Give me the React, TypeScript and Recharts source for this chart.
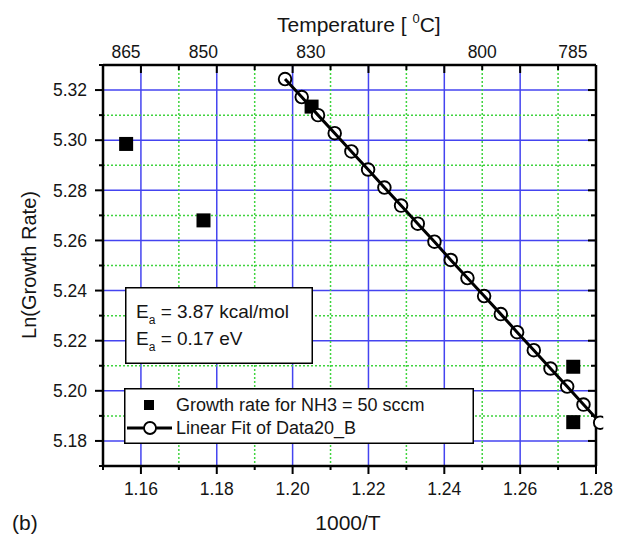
import React from 'react';
import { ComposedChart, XAxis, YAxis, CartesianGrid, Line, Scatter, Legend } from 'recharts';

const FONT = '"Liberation Sans", Arial, Helvetica, sans-serif';
const INK = '#151515';

// ---- bottom axis: 1000/T ----
const xTicks = [1.15, 1.16, 1.17, 1.18, 1.19, 1.2, 1.21, 1.22, 1.23, 1.24, 1.25, 1.26, 1.27, 1.28];
const xMajor = [1.16, 1.18, 1.2, 1.22, 1.24, 1.26, 1.28];
const xLabels = ['1.16', '1.18', '1.20', '1.22', '1.24', '1.26', '1.28'];
const xGridMajor = [1.16, 1.18, 1.2, 1.22, 1.24, 1.26];
const xGridMinor = [1.17, 1.19, 1.21, 1.23, 1.25, 1.27];

// ---- left axis: Ln(Growth Rate) ----
const yTicks = [5.17, 5.18, 5.19, 5.2, 5.21, 5.22, 5.23, 5.24, 5.25, 5.26, 5.27, 5.28, 5.29, 5.3, 5.31, 5.32, 5.33];
const yMajor = [5.18, 5.2, 5.22, 5.24, 5.26, 5.28, 5.3, 5.32];
const yLabels = ['5.18', '5.20', '5.22', '5.24', '5.26', '5.28', '5.30', '5.32'];
const yGridMajor = [5.18, 5.2, 5.22, 5.24, 5.26, 5.28, 5.3, 5.32];
const yGridMinor = [5.19, 5.21, 5.23, 5.25, 5.27, 5.29, 5.31];

// ---- top axis: temperature labels (placed at 1000/T) ----
const topTemps = [865, 850, 830, 800, 785];
const topTempPos = topTemps.map((t) => 1000 / t);

// ---- series: Growth rate for NH3 = 50 sccm ----
const growthX = [1.1561, 1.1765, 1.205, 1.274, 1.274];
const growthY = [5.2985, 5.268, 5.3134, 5.2096, 5.1875];

// ---- series: Linear Fit of Data20_B ----
const fitX = [1.198, 1.2024, 1.2067, 1.2111, 1.2155, 1.2199, 1.2242, 1.2286, 1.233, 1.2374,
  1.2417, 1.2461, 1.2505, 1.2549, 1.2592, 1.2636, 1.268, 1.2724, 1.2767, 1.2811];
const fitY = [5.3244, 5.3172, 5.31, 5.3028, 5.2955, 5.2883, 5.2811, 5.2739, 5.2667, 5.2595,
  5.2522, 5.245, 5.2378, 5.2306, 5.2234, 5.2162, 5.2089, 5.2017, 5.1945, 5.1873];

const growthData = growthX.map((x, i) => ({ x, y: growthY[i] }));
const fitData = fitX.map((x, i) => ({ x, y: fitY[i] }));

const findIdx = (arr: number[], v: number) => arr.findIndex((m) => Math.abs(m - v) < 1e-7);

const TICK_FS = 17.5;

const BottomTick = (props: any) => {
  const { x, y, payload } = props;
  const i = findIdx(xMajor, payload.value);
  const major = i >= 0;
  return (
    <g>
      <line x1={x} x2={x} y1={y} y2={y + (major ? 8 : 4)} stroke="#000" strokeWidth={2} />
      {major && (
        <text x={x} y={y + 29} textAnchor="middle" fontFamily={FONT} fontSize={TICK_FS} fill={INK}>
          {xLabels[i]}
        </text>
      )}
    </g>
  );
};

const LeftTick = (props: any) => {
  const { x, y, payload } = props;
  const i = findIdx(yMajor, payload.value);
  const major = i >= 0;
  return (
    <g>
      <line x1={x - (major ? 8 : 4)} x2={x} y1={y} y2={y} stroke="#000" strokeWidth={2} />
      {major && (
        <text x={x - 16} y={y + 6.3} textAnchor="end" fontFamily={FONT} fontSize={TICK_FS} fill={INK}>
          {yLabels[i]}
        </text>
      )}
    </g>
  );
};

const TopTick = (props: any) => {
  const { x, y, payload } = props;
  const idx = typeof payload.index === 'number' ? payload.index : -1;
  if (idx >= xTicks.length) {
    const ti = idx - xTicks.length;
    return (
      <text x={x} y={y - 7} textAnchor="middle" fontFamily={FONT} fontSize={TICK_FS} fill={INK}>
        {String(topTemps[ti])}
      </text>
    );
  }
  const major = findIdx(xMajor, payload.value) >= 0;
  return <line x1={x} x2={x} y1={y} y2={y + (major ? 8 : 5)} stroke="#000" strokeWidth={2} />;
};

const RightTick = (props: any) => {
  const { x, y, payload } = props;
  const major = findIdx(yMajor, payload.value) >= 0;
  return <line x1={x - (major ? 8 : 5)} x2={x} y1={y} y2={y} stroke="#000" strokeWidth={2} />;
};

const mapScale = (ax: any, vals: number[]) => {
  const s = ax && ax.scale;
  if (!s) return [];
  return vals.map((v) => (typeof s === 'function' ? s(v) : s.map(v)));
};

const SquareShape = (props: any) => {
  const { cx, cy } = props;
  if (cx == null || cy == null) return null;
  return <rect x={cx - 7} y={cy - 7} width={14} height={14} fill="#000" />;
};

const NoShape = () => <g />;

const LegendBox = () => (
  <svg width={350} height={56} style={{ display: 'block' }}>
    <rect x={0.75} y={0.75} width={348.5} height={54.5} fill="#fff" stroke="#000" strokeWidth={1.5} />
    <rect x={20} y={12} width={10} height={10} fill="#000" />
    <text x={52} y={23} fontFamily={FONT} fontSize={18} fill={INK}>
      Growth rate for NH3 = 50 sccm
    </text>
    <line x1={3} x2={48} y1={40} y2={40} stroke="#000" strokeWidth={3} />
    <circle cx={26} cy={40} r={6} fill="#fff" stroke="#000" strokeWidth={1.8} />
    <text x={52} y={45.5} fontFamily={FONT} fontSize={18} fill={INK}>
      Linear Fit of Data20_B
    </text>
  </svg>
);

export default function App() {
  return (
    <div style={{ position: 'absolute', left: 0, top: 0, width: 620, height: 535, background: '#fff' }}>
      <ComposedChart
        width={620}
        height={535}
        margin={{ top: 64, right: 23, bottom: 68, left: 102 }}
      >
        <CartesianGrid
          xAxisId="b"
          yAxisId="l"
          stroke="#4444f0"
          strokeWidth={1.5}
          horizontalCoordinatesGenerator={(p: any) => mapScale(p.yAxis, yGridMajor)}
          verticalCoordinatesGenerator={(p: any) => mapScale(p.xAxis, xGridMajor)}
        />
        <CartesianGrid
          xAxisId="b"
          yAxisId="l"
          stroke="#3fd43f"
          strokeWidth={1.5}
          strokeDasharray="2 2"
          horizontalCoordinatesGenerator={(p: any) => mapScale(p.yAxis, yGridMinor)}
          verticalCoordinatesGenerator={(p: any) => mapScale(p.xAxis, xGridMinor)}
        />
        <XAxis
          xAxisId="b"
          type="number"
          dataKey="x"
          domain={[1.15, 1.28]}
          allowDataOverflow
          ticks={xTicks}
          interval={0}
          height={1}
          tickSize={0}
          tickMargin={0}
          tickLine={false}
          tick={BottomTick}
          axisLine={{ stroke: '#000', strokeWidth: 2.5 }}
        />
        <XAxis
          xAxisId="t"
          orientation="top"
          type="number"
          dataKey="x"
          domain={[1.15, 1.28]}
          allowDataOverflow
          ticks={[...xTicks, ...topTempPos]}
          interval={0}
          height={1}
          tickSize={0}
          tickMargin={0}
          tickLine={false}
          tick={TopTick}
          axisLine={{ stroke: '#000', strokeWidth: 2.5 }}
        />
        <YAxis
          yAxisId="l"
          type="number"
          dataKey="y"
          domain={[5.17, 5.33]}
          allowDataOverflow
          ticks={yTicks}
          interval={0}
          width={1}
          tickSize={0}
          tickMargin={0}
          tickLine={false}
          tick={LeftTick}
          axisLine={{ stroke: '#000', strokeWidth: 2.5 }}
        />
        <YAxis
          yAxisId="r"
          orientation="right"
          type="number"
          dataKey="y"
          domain={[5.17, 5.33]}
          allowDataOverflow
          ticks={yTicks}
          interval={0}
          width={1}
          tickSize={0}
          tickMargin={0}
          tickLine={false}
          tick={RightTick}
          axisLine={{ stroke: '#000', strokeWidth: 2.5 }}
        />
        <Scatter
          xAxisId="t"
          yAxisId="r"
          data={growthData}
          dataKey="y"
          shape={NoShape}
          legendType="none"
          isAnimationActive={false}
        />
        <Scatter
          name="Growth rate for NH3 = 50 sccm"
          xAxisId="b"
          yAxisId="l"
          data={growthData}
          dataKey="y"
          shape={SquareShape}
          isAnimationActive={false}
        />
        <Line
          name="Linear Fit of Data20_B"
          xAxisId="b"
          yAxisId="l"
          data={fitData}
          dataKey="y"
          type="linear"
          stroke="#000"
          strokeWidth={3}
          dot={{ r: 6.3, fill: '#fff', stroke: '#000', strokeWidth: 1.9, clipDot: false }}
          activeDot={false}
          isAnimationActive={false}
          zIndex={700}
        />
        <Legend
          layout="vertical"
          align="center"
          verticalAlign="middle"
          content={LegendBox}
          wrapperStyle={{ left: 124, top: 388, width: 350, height: 56, margin: 0, padding: 0 }}
        />
      </ComposedChart>
      <svg
        width={620}
        height={535}
        style={{ position: 'absolute', left: 0, top: 0, pointerEvents: 'none' }}
      >
        <text x={277} y={32} fontFamily={FONT} fontSize={21} fill={INK}>
          Temperature [ <tspan fontSize={13} dy={-9}>0</tspan>
          <tspan dy={9}>C]</tspan>
        </text>
        <text x={348} y={530} textAnchor="middle" fontFamily={FONT} fontSize={21} fill={INK}>
          1000/T
        </text>
        <text x={12} y={530} fontFamily={FONT} fontSize={21} fill={INK}>
          (b)
        </text>
        <text
          x={29}
          y={265}
          textAnchor="middle"
          dominantBaseline="central"
          transform="rotate(-90 29 265)"
          fontFamily={FONT}
          fontSize={20}
          fill={INK}
        >
          Ln(Growth Rate)
        </text>
        <rect x={125.75} y={287.75} width={186.5} height={75.5} fill="#fff" stroke="#000" strokeWidth={1.5} />
        <text x={136} y={318} fontFamily={FONT} fontSize={19} fill={INK}>
          E<tspan fontSize={12} dy={6}>a</tspan>
          <tspan dy={-6}> = 3.87 kcal/mol</tspan>
        </text>
        <text x={136} y={345} fontFamily={FONT} fontSize={19} fill={INK}>
          E<tspan fontSize={12} dy={6}>a</tspan>
          <tspan dy={-6}> = 0.17 eV</tspan>
        </text>
      </svg>
    </div>
  );
}
